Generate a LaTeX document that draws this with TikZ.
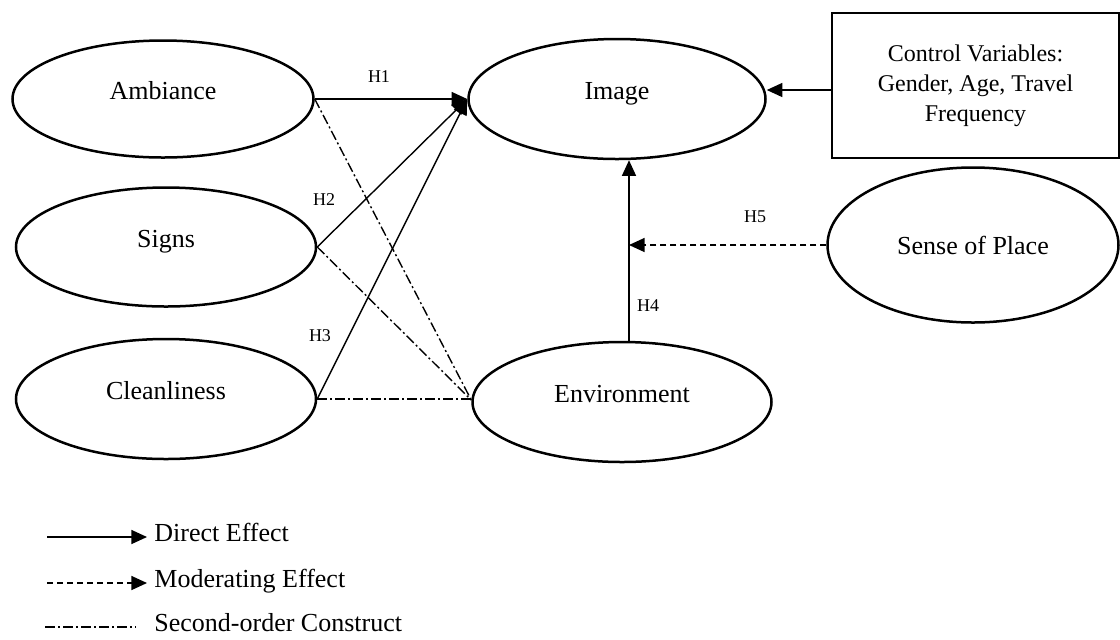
\documentclass[tikz,border=0pt]{standalone}
\usepackage{fontspec}
\setmainfont{Liberation Serif}
\usetikzlibrary{shapes.geometric,arrows.meta,calc}
\begin{document}
\begin{tikzpicture}[x=0.5pt,y=-0.5pt,
  lat/.style={ellipse,draw,line width=1.25pt,inner sep=0pt,font=\fontsize{13}{15}\selectfont,text height=0pt,text depth=0pt},
  arr/.style={line width=0.7pt,-{Triangle[length=7.8pt,width=7pt]}},
  modline/.style={dash pattern=on 3pt off 2pt},
  ddline/.style={line width=0.7pt,dash pattern=on 5pt off 1.5pt on 1pt off 1.5pt},
  hl/.style={font=\fontsize{9}{11}\selectfont,inner sep=0pt},
  leg/.style={font=\fontsize{13}{15}\selectfont,anchor=west,inner sep=0pt,text height=0.68em,text depth=0.22em}]
\useasboundingbox (0,0) rectangle (1120,639);
% constructs
\node[lat,minimum width=150.5pt,minimum height=58.5pt] (amb) at (163,99) {Ambiance};
\node[lat,minimum width=150pt,minimum height=59.5pt] (sig) at (166,247) {Signs};
\node[lat,minimum width=150pt,minimum height=60pt] (cln) at (166,399) {Cleanliness};
\node[lat,minimum width=148.5pt,minimum height=60pt] (img) at (617,99) {Image};
\node[lat,minimum width=149.5pt,minimum height=60pt] (env) at (622,402) {Environment};
\node[ellipse,draw,line width=1.25pt,inner sep=0pt,font=\fontsize{13}{15}\selectfont,minimum width=145.5pt,minimum height=77.5pt] (sop) at (973,245) {Sense of Place};
\node[draw,line width=1.3pt,inner sep=0pt,minimum width=143.5pt,minimum height=72.5pt,align=center,font=\fontsize{12}{15}\selectfont] (ctrl) at (975.5,85.5) {Control Variables:\\Gender, Age, Travel\\Frequency};
% direct effects
\draw[arr] (amb.east) -- (img.west);
\draw[arr] (sig.east) -- (img.west);
\draw[arr] (cln.east) -- (img.west);
\coordinate (c1) at ([yshift=-2.25pt]ctrl.west);
\draw[arr] (c1) -- (c1 -| img.east);
\coordinate (h4) at ([xshift=3.5pt]env.north);
\draw[arr] (h4) -- (h4 |- img.south);
% moderating effect
\draw[arr,modline] (sop.west) -- (sop.west -| h4);
% second-order construct
\coordinate (ew) at ([yshift=1pt]env.west);
\draw[ddline] (amb.east) -- (ew);
\draw[ddline] (sig.east) -- (ew);
\draw[ddline] (cln.east) -- (cln.east -| ew);
% hypothesis labels
\node[hl] (lh1) at (379,77) {H1};
\node[hl] (lh2) at (324,200) {H2};
\node[hl] (lh3) at (320,336) {H3};
\node[hl] (lh4) at (648,306) {H4};
\node[hl] (lh5) at (755,217) {H5};
% legend
\node[leg] (d1) at (154,537) {Direct Effect};
\node[leg] (d2) at (154,583) {Moderating Effect};
\node[leg] (d3) at (154,627) {Second-order Construct};
\coordinate (s1) at (47,537);
\coordinate (s2) at (47,583);
\coordinate (s3) at (45,627);
\draw[arr] (s1) -- ([xshift=-3.5pt]d1.west);
\draw[arr,modline] (s2) -- ([xshift=-3.5pt]d2.west);
\draw[ddline] (s3) -- ([xshift=-9pt]d3.west);
\end{tikzpicture}
\end{document}
